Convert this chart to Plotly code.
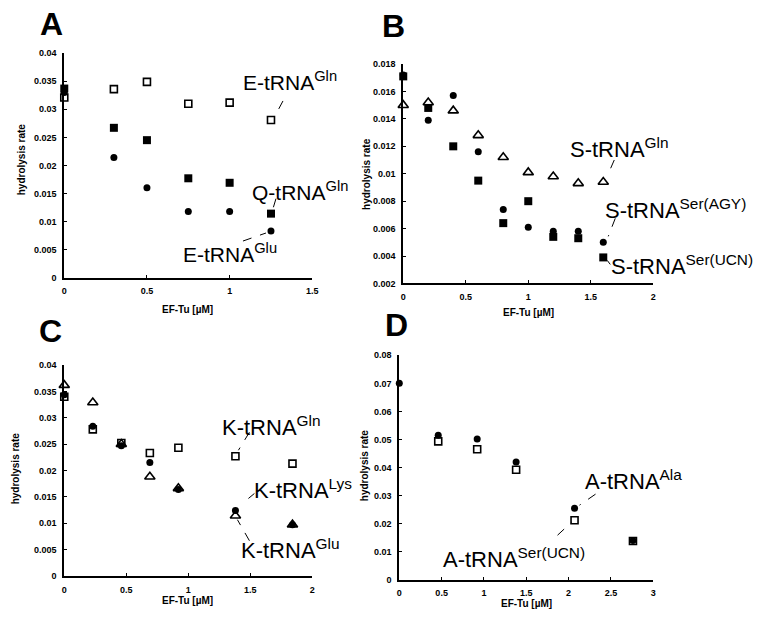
import plotly.graph_objects as go

# ---------------- data ----------------
# Panel A
A_x = [0, 0.3, 0.5, 0.75, 1.0, 1.25]
A_E_Gln = [0.0321, 0.0336, 0.0349, 0.0310, 0.0312, 0.0281]
A_Q_Gln = [0.0337, 0.0267, 0.0245, 0.0177, 0.0169, 0.0114]
A_E_Glu = [0.0330, 0.0214, 0.0160, 0.0118, 0.0118, 0.0083]
A_xticks = [0, 0.5, 1, 1.5]
A_xtext = ["0", "0.5", "1", "1.5"]
A_yticks = [0, 0.005, 0.01, 0.015, 0.02, 0.025, 0.03, 0.035, 0.04]
A_ytext = ["0", "0.005", "0.01", "0.015", "0.02", "0.025", "0.03", "0.035", "0.04"]

# Panel B
B_x = [0, 0.2, 0.4, 0.6, 0.8, 1.0, 1.2, 1.4, 1.6]
B_S_Gln = [0.0150, 0.0152, 0.0146, 0.0128, 0.0112, 0.0101, 0.0098, 0.0093, 0.0094]
B_S_AGY = [0.0172, 0.0139, 0.0157, 0.0116, 0.0074, 0.0061, 0.0058, 0.0058, 0.0050]
B_S_UCN = [0.0171, 0.0148, 0.0120, 0.0095, 0.0064, 0.0080, 0.0054, 0.0053, 0.0039]
B_xticks = [0, 0.5, 1, 1.5, 2]
B_xtext = ["0", "0.5", "1", "1.5", "2"]
B_yticks = [0.002, 0.004, 0.006, 0.008, 0.01, 0.012, 0.014, 0.016, 0.018]
B_ytext = ["0.002", "0.004", "0.006", "0.008", "0.01", "0.012", "0.014", "0.016", "0.018"]

# Panel C
C_x = [0, 0.23, 0.46, 0.69, 0.92, 1.38, 1.84]
C_K_Gln = [0.0340, 0.0278, 0.0252, 0.0233, 0.0243, 0.0227, 0.0213]
C_K_Lys = [0.0344, 0.0284, 0.0247, 0.0215, 0.0164, 0.0124, 0.0097]
C_K_Glu = [0.0362, 0.0329, 0.0250, 0.0188, 0.0166, 0.0114, 0.0097]
C_xticks = [0, 0.5, 1, 1.5, 2]
C_xtext = ["0", "0.5", "1", "1.5", "2"]
C_yticks = A_yticks
C_ytext = A_ytext

# Panel D
D_x = [0, 0.46, 0.92, 1.38, 2.07, 2.76]
D_A_Ala = [0.0700, 0.0515, 0.0502, 0.0420, 0.0255, 0.0140]
D_A_SerUCN = [None, 0.0493, 0.0465, 0.0392, 0.0212, 0.0138]
D_xticks = [0, 0.5, 1, 1.5, 2, 2.5, 3]
D_xtext = ["0", "0.5", "1", "1.5", "2", "2.5", "3"]
D_yticks = [0, 0.01, 0.02, 0.03, 0.04, 0.05, 0.06, 0.07, 0.08]
D_ytext = ["0", "0.01", "0.02", "0.03", "0.04", "0.05", "0.06", "0.07", "0.08"]

# ---------------- layout geometry ----------------
W, H = 767, 626
FONT = "Liberation Sans, Arial, sans-serif"

# plot boxes in pixels: left, right, top, bottom
boxes = {
    "A": (62, 313, 49, 277),
    "B": (405, 658, 60, 283),
    "C": (62, 313, 366, 580),
    "D": (401, 658, 356, 584),
}

def xdom(b):
    return [b[0] / W, b[1] / W]

def ydom(b):
    return [1 - b[3] / H, 1 - b[2] / H]

fig = go.Figure()

def add(xv, yv, symbol, size, axis, filled=True):
    xa, ya = axis
    fig.add_trace(go.Scatter(
        x=xv, y=yv, mode="markers", xaxis=xa, yaxis=ya, cliponaxis=False,
        marker=dict(symbol=symbol, size=size, color="black" if filled else "rgba(255,255,255,0)",
                    line=dict(color="black", width=0 if filled else 1.6)),
        showlegend=False, hoverinfo="skip"))

# Panel A
add(A_x, A_E_Gln, "square", 7, ("x", "y"), filled=False)
add(A_x, A_Q_Gln, "square", 8, ("x", "y"))
add(A_x, A_E_Glu, "circle", 7, ("x", "y"))
# Panel B
add(B_x, B_S_Gln, "triangle-up", 9, ("x2", "y2"), filled=False)
add(B_x, B_S_UCN, "square", 8, ("x2", "y2"))
add(B_x, B_S_AGY, "circle", 7, ("x2", "y2"))
# Panel C
add(C_x, C_K_Lys, "circle", 7, ("x3", "y3"))
add(C_x, C_K_Gln, "square", 7, ("x3", "y3"), filled=False)
add(C_x, C_K_Glu, "triangle-up", 9, ("x3", "y3"), filled=False)
# Panel D
add(D_x, D_A_Ala, "circle", 7, ("x4", "y4"))
add(D_x, D_A_SerUCN, "square", 7, ("x4", "y4"), filled=False)

tickfont = dict(family=FONT, size=9, color="black", weight="bold")

def axis_pair(key, xr, yr, xt, xtt, yt, ytt, anchor_x, anchor_y):
    b = boxes[key]
    xa = dict(domain=xdom(b), range=xr, anchor=anchor_y, showline=True, linewidth=2,
              linecolor="black", ticks="inside", ticklen=3, tickwidth=1, tickcolor="black",
              tickvals=xt, ticktext=xtt, tickfont=tickfont, showgrid=False,
              zeroline=False, ticklabelstandoff=4, fixedrange=True)
    ya = dict(domain=ydom(b), range=yr, anchor=anchor_x, showline=True, linewidth=2,
              linecolor="black", ticks="inside", ticklen=3, tickwidth=1, tickcolor="black",
              tickvals=yt, ticktext=ytt, tickfont=tickfont, showgrid=False,
              zeroline=False, ticklabelstandoff=4, fixedrange=True)
    return xa, ya

xa1, ya1 = axis_pair("A", [0, 1.5], [0, 0.04], A_xticks, A_xtext, A_yticks, A_ytext, "x", "y")
xa2, ya2 = axis_pair("B", [0, 2], [0.002, 0.018], B_xticks, B_xtext, B_yticks, B_ytext, "x2", "y2")
xa3, ya3 = axis_pair("C", [0, 2], [0, 0.04], C_xticks, C_xtext, C_yticks, C_ytext, "x3", "y3")
xa4, ya4 = axis_pair("D", [0, 3], [0, 0.08], D_xticks, D_xtext, D_yticks, D_ytext, "x4", "y4")

annotations = []

def paper_text(text, px, py, size, bold=False, angle=0, xanchor="center"):
    annotations.append(dict(
        text=text, x=px / W, y=1 - py / H, xref="paper", yref="paper",
        showarrow=False, xanchor=xanchor, yanchor="middle", textangle=angle,
        font=dict(family=FONT, size=size, color="black", weight="bold" if bold else "normal")))

# panel letters
paper_text("A", 49, 19, 32, bold=True)
paper_text("B", 395, 21, 32, bold=True)
paper_text("C", 48, 331, 32, bold=True)
paper_text("D", 398, 325, 32, bold=True)

# axis titles
paper_text("EF-Tu [µM]", 187, 309, 10, bold=True)
paper_text("EF-Tu [µM]", 532, 312, 10, bold=True)
paper_text("EF-Tu [µM]", 187, 605, 10, bold=True)
paper_text("EF-Tu [µM]", 530, 608, 10, bold=True)
paper_text("hydrolysis rate", 19, 157, 10, bold=True, angle=-90)
paper_text("hydrolysis rate", 368, 172, 10, bold=True, angle=-90)
paper_text("hydrolysis rate", 13, 471, 10, bold=True, angle=-90)
paper_text("hydrolysis rate", 366, 468, 10, bold=True, angle=-90)

# series labels (pixel positions of text left / vertical middle, font size)
labels = [
    ("E-tRNA<sup>Gln</sup>", 241, 77, 21),
    ("Q-tRNA<sup>Gln</sup>", 250, 189, 21),
    ("E-tRNA<sup>Glu</sup>", 180, 252, 21),
    ("S-tRNA<sup>Gln</sup>", 572, 145, 22),
    ("S-tRNA<sup>Ser(AGY)</sup>", 607, 207, 22),
    ("S-tRNA<sup>Ser(UCN)</sup>", 613, 264, 22),
    ("K-tRNA<sup>Gln</sup>", 220, 428, 22),
    ("K-tRNA<sup>Lys</sup>", 252, 492, 22),
    ("K-tRNA<sup>Glu</sup>", 239, 553, 22),
    ("A-tRNA<sup>Ala</sup>", 587, 483, 22),
    ("A-tRNA<sup>Ser(UCN)</sup>", 443, 562, 22),
]
for t, px, py, fs in labels:
    paper_text(t, px, py, fs, xanchor="left")

# leader lines anchored to data points, offsets in screen pixels (dx, dy down)
leaders = [
    ("x", "y", A_x[5], A_E_Gln[5], (12, -19), (4, -4)),
    ("x", "y", A_x[5], A_Q_Gln[5], (5, -15), (2, -5)),
    ("x", "y", A_x[5], A_E_Glu[5], (-28, 10), (-5, 2)),
    ("x2", "y2", B_x[8], B_S_Gln[8], (11, -22), (4, -6)),
    ("x2", "y2", B_x[8], B_S_AGY[8], (12, -24), (5, -6)),
    ("x2", "y2", B_x[8], B_S_UCN[8], (4, 3), (7, 7)),
    ("x3", "y3", C_x[5], C_K_Gln[5], (14, -24), (3, -6)),
    ("x3", "y3", C_x[5], C_K_Lys[5], (19, -17), (13, -12)),
    ("x3", "y3", C_x[5], C_K_Glu[5], (14, 25), (2, 4)),
    ("x4", "y4", D_x[4], D_A_Ala[4], (21, -14), (5, -3)),
    ("x4", "y4", D_x[4], D_A_SerUCN[4], (-17, 15), (-3, 2)),
]
shapes = []
for xr, yr, xv, yv, p0, p1 in leaders:
    shapes.append(dict(type="line", xref=xr, yref=yr, xsizemode="pixel", ysizemode="pixel",
                       xanchor=xv, yanchor=yv, x0=p0[0], y0=-p0[1], x1=p1[0], y1=-p1[1],
                       line=dict(color="black", width=1, dash="dash")))

fig.update_layout(
    width=W, height=H, margin=dict(l=0, r=0, t=0, b=0),
    paper_bgcolor="white", plot_bgcolor="white",
    xaxis=xa1, yaxis=ya1, xaxis2=xa2, yaxis2=ya2,
    xaxis3=xa3, yaxis3=ya3, xaxis4=xa4, yaxis4=ya4,
    annotations=annotations, shapes=shapes, showlegend=False,
)

fig.write_html("out.html", config={"displayModeBar": False},
               post_script="document.body.style.margin='0';document.body.style.overflow='hidden';")
